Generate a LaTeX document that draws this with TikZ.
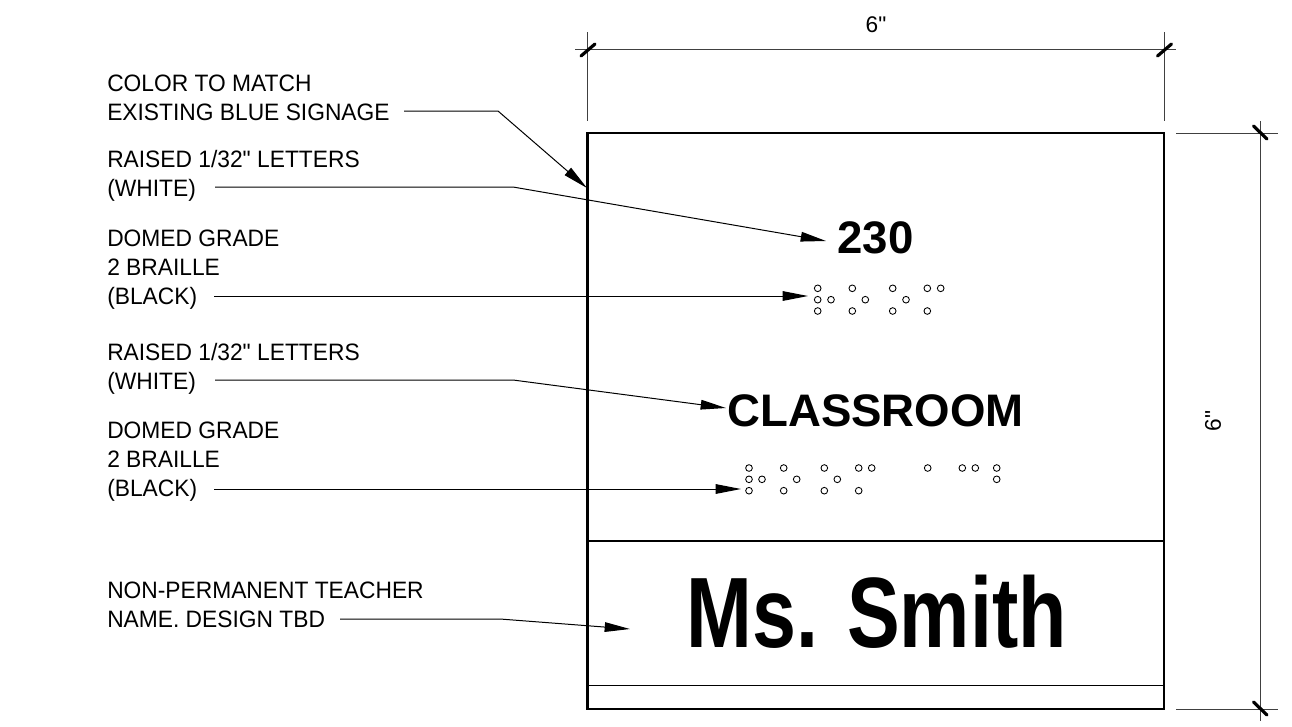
\documentclass[tikz,border=0pt]{standalone}
\usepackage{fontspec}
\setmainfont{Liberation Sans}[Ligatures=TeXOff]
\usetikzlibrary{arrows.meta}
\tikzset{
  x=0.75pt,y=-0.75pt,
  lbl/.style={anchor=base west,align=left,inner sep=0pt,xscale=0.96,font=\fontsize{17.8}{21.75}\selectfont},
  dimtxt/.style={inner sep=0pt,font=\fontsize{17}{20}\selectfont},
  leader/.style={line width=0.75pt,-{Triangle[length=19pt,width=7.2pt]}},
  ext/.style={line width=0.6pt,draw=black!75},
  tick/.style={line width=2.4pt,line cap=round},
  panel/.style={line width=1.6pt},
  bold/.style={inner sep=0pt,anchor=base},
  dot/.style={circle,draw,line width=0.65pt,minimum size=5pt,inner sep=0pt},
}
\newcommand{\brl}[2]{\foreach \yy in {#2}{\node[dot] at (#1,\yy) {};}}
\begin{document}
\begin{tikzpicture}
\useasboundingbox (0,0) rectangle (1292,726);
% panel
\node[draw,panel,outer sep=0pt,minimum width=432.4pt,minimum height=432pt,inner sep=0pt,anchor=north west] (sign) at (587.5,133) {};
\coordinate (divL) at (587.5,541); \coordinate (divR) at (1164,541);
\coordinate (botL) at (587.5,685); \coordinate (botR) at (1164,685);
\draw[panel] (divL) -- (divR);
\draw[line width=0.75pt] (botL) -- (botR);
% sign text
\node[bold,font=\bfseries\fontsize{34.2}{36}\selectfont] (num) at (875.5,253) {230};
\node[bold,font=\bfseries\fontsize{34.2}{36}\selectfont] (room) at (875.5,426.5) {CLASSROOM};
\node[bold,font=\bfseries\fontsize{75}{78}\selectfont,xscale=0.79] (name) at (876.5,647) {Ms. Smith};
% labels
\node[lbl] (l1) at (107,120) {COLOR TO MATCH\\EXISTING BLUE SIGNAGE};
\node[lbl] (l2) at (107,196.7) {RAISED 1/32" LETTERS\\(WHITE)};
\node[lbl] (l3) at (107,304) {DOMED GRADE\\2 BRAILLE\\(BLACK)};
\node[lbl] (l4) at (107,389) {RAISED 1/32" LETTERS\\(WHITE)};
\node[lbl] (l5) at (107,496.5) {DOMED GRADE\\2 BRAILLE\\(BLACK)};
\node[lbl] (l6) at (107,627.7) {NON-PERMANENT TEACHER\\NAME. DESIGN TBD};
% leader ends
\coordinate (a1) at (404,111); \coordinate (b1) at (498,111); \coordinate (t1) at (587,188);
\coordinate (a2) at (215,187); \coordinate (b2) at (513,187); \coordinate (t2) at (826,241);
\coordinate (a3) at (214,296); \coordinate (t3) at (808,296);
\coordinate (a4) at (215,380); \coordinate (b4) at (513,380); \coordinate (t4) at (726,408);
\coordinate (a5) at (214,489); \coordinate (t5) at (741,489);
\coordinate (a6) at (340,619); \coordinate (b6) at (500,619); \coordinate (t6) at (630,629);
\draw[leader] (a1) -- (b1) -- (t1);
\draw[leader] (a2) -- (b2) -- (t2);
\draw[leader] (a3) -- (t3);
\draw[leader] (a4) -- (b4) -- (t4);
\draw[leader] (a5) -- (t5);
\draw[leader] (a6) -- (b6) -- (t6);
% braille 230
\brl{817.7}{288.3,299.7,311}
\brl{831}{299.7}
\brl{852.3}{288.3,311}
\brl{865.3}{299.7}
\brl{892.7}{288.3,311}
\brl{906}{299.7}
\brl{927.3}{288.3,311}
\brl{940.7}{288.3}
% braille classroom
\brl{749}{468,479.3,490.7}
\brl{762}{479.3}
\brl{783.7}{468,490.7}
\brl{796.7}{479.3}
\brl{824.3}{468,490.7}
\brl{837.3}{479.3}
\brl{858.7}{468,490.7}
\brl{871.7}{468}
\brl{927.7}{468}
\brl{962.3}{468}
\brl{975.3}{468}
\brl{996.7}{468,479.3}
% dimensions
\coordinate (tl1) at (587.5,32); \coordinate (tl2) at (587.5,121);
\coordinate (tr1) at (1164,32); \coordinate (tr2) at (1164,121);
\coordinate (th1) at (575,49.5); \coordinate (th2) at (1176,49.5);
\draw[ext] (tl1) -- (tl2);
\draw[ext] (tr1) -- (tr2);
\draw[ext] (th1) -- (th2);
\coordinate (ta1) at (581,56); \coordinate (ta2) at (595,44);
\coordinate (tb1) at (1157.5,56); \coordinate (tb2) at (1171.5,44);
\draw[tick] (ta1) -- (ta2);
\draw[tick] (tb1) -- (tb2);
\coordinate (rt1) at (1176,133); \coordinate (rt2) at (1278,133);
\coordinate (rb1) at (1176,709); \coordinate (rb2) at (1278,709);
\coordinate (rv1) at (1260,121); \coordinate (rv2) at (1260,721);
\draw[ext] (rt1) -- (rt2);
\draw[ext] (rb1) -- (rb2);
\draw[ext] (rv1) -- (rv2);
\coordinate (tc1) at (1253.5,126); \coordinate (tc2) at (1267,139);
\coordinate (td1) at (1253.5,702); \coordinate (td2) at (1267,715);
\draw[tick] (tc1) -- (tc2);
\draw[tick] (td1) -- (td2);
\node[dimtxt] (d1) at (876,25) {6"};
\node[dimtxt,rotate=90] (d2) at (1213,421) {6"};
\end{tikzpicture}
\end{document}
